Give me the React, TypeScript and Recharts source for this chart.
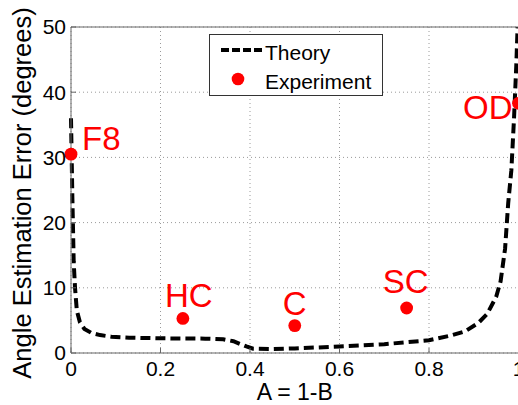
import React from 'react'
import {
  ComposedChart, Line, Scatter, XAxis, YAxis, CartesianGrid, Legend, Label,
} from 'recharts'

const FONT = '"Liberation Sans", Arial, sans-serif'

// theory curve: error vs A
const theoryA = [
  0, 0.003, 0.006, 0.009, 0.013, 0.02, 0.03, 0.045, 0.065, 0.09, 0.13, 0.2, 0.3, 0.34,
  0.363, 0.392, 0.407, 0.45, 0.5, 0.6, 0.7, 0.8, 0.85, 0.88, 0.91, 0.93, 0.95, 0.96,
  0.97, 0.977, 0.984, 0.99, 0.995, 0.998,
]
const theoryErr = [
  36, 24, 14, 10, 6.5, 4.7, 3.7, 3.1, 2.75, 2.5, 2.35, 2.25, 2.2, 2.1,
  1.8, 1.0, 0.65, 0.6, 0.7, 1.0, 1.35, 1.95, 2.7, 3.3, 4.6, 6.0, 8.6, 11,
  16, 23, 28, 36, 44, 50,
]

// experiment points
const expNames = ['F8', 'HC', 'C', 'SC', 'OD']
const expA = [0, 0.25, 0.5, 0.75, 1]
const expErr = [30.5, 5.3, 4.2, 6.9, 38.3]

const xTicks = [0, 0.2, 0.4, 0.6, 0.8, 1]
const xTickLabels = ['0', '0.2', '0.4', '0.6', '0.8', '1']
const yTicks = [0, 10, 20, 30, 40, 50]
const yTickLabels = ['0', '10', '20', '30', '40', '50']

// where each point's name sits relative to its dot
const LABEL_POS: Record<string, { dx: number; dy: number; anchor: 'start' | 'middle' | 'end' }> = {
  F8: { dx: 11, dy: -4, anchor: 'start' },
  HC: { dx: 6, dy: -11, anchor: 'middle' },
  C: { dx: 0, dy: -11, anchor: 'middle' },
  SC: { dx: -1, dy: -15, anchor: 'middle' },
  OD: { dx: -6, dy: 16, anchor: 'end' },
}

const theory = theoryA.map((a, i) => ({ a, err: theoryErr[i] }))
const experiment = expNames.map((name, i) => ({ name, a: expA[i], err: expErr[i] }))

const AXIS = '#666'

function ExpDot(props: any) {
  const { cx, cy, payload } = props
  const pos = LABEL_POS[payload.name]
  return (
    <g>
      <circle cx={cx} cy={cy} r={6.4} fill="#FF0000" />
      <text
        x={cx + pos.dx}
        y={cy + pos.dy}
        textAnchor={pos.anchor}
        fill="#FF0000"
        fontSize={33}
        fontFamily={FONT}
      >
        {payload.name}
      </text>
    </g>
  )
}

function LegendBox() {
  return (
    <div
      style={{
        width: 174, height: 62, boxSizing: 'border-box', border: '1px solid #333',
        background: '#fff', position: 'relative',
      }}
    >
      <svg width={172} height={60} style={{ position: 'absolute', left: 0, top: 0 }}>
        <line x1={11} x2={53} y1={15} y2={15} stroke="#000" strokeWidth={4} strokeDasharray="8 3" />
        <circle cx={28} cy={44} r={6.3} fill="#FF0000" />
        <text x={55} y={25} fontSize={21} fontFamily={FONT} fill="#000">Theory</text>
        <text x={55} y={54} fontSize={21} fontFamily={FONT} fill="#000">Experiment</text>
      </svg>
    </div>
  )
}

export default function App() {
  return (
    <div
      style={{
        width: 518, height: 405, boxSizing: 'border-box', padding: '8px 0 0 8px',
        overflow: 'hidden', background: '#fff',
      }}
    >
      <style>{'html, body { margin: 0; overflow: hidden; }'}</style>
      <ComposedChart width={520} height={397} margin={{ top: 18, right: 9.5, bottom: 0, left: 0 }}>
        <CartesianGrid stroke="#9a9a9a" strokeDasharray="1 3" />
        <XAxis
          dataKey="a"
          type="number"
          domain={[0, 1]}
          ticks={xTicks}
          tickFormatter={(_v: number, i: number) => xTickLabels[i]}
          height={52}
          tickSize={-5}
          tickMargin={13}
          axisLine={{ stroke: AXIS }}
          tickLine={{ stroke: AXIS }}
          tick={{ fill: '#000', fontSize: 21, fontFamily: FONT }}
          interval={0}
        >
          <Label
            content={(p: any) => (
              <text
                x={p.viewBox.x + p.viewBox.width / 2}
                y={p.viewBox.y + 47}
                textAnchor="middle"
                fontSize={23}
                fontFamily={FONT}
                fill="#000"
              >
                A = 1-B
              </text>
            )}
          />
        </XAxis>
        <XAxis
          xAxisId="top"
          orientation="top"
          dataKey="a"
          type="number"
          domain={[0, 1]}
          ticks={xTicks}
          height={1}
          tick={false}
          tickSize={-5}
          axisLine={{ stroke: AXIS }}
          tickLine={{ stroke: AXIS }}
        />
        <YAxis
          dataKey="err"
          type="number"
          domain={[0, 50]}
          ticks={yTicks}
          tickFormatter={(_v: number, i: number) => yTickLabels[i]}
          width={63}
          tickSize={-5}
          tickMargin={10}
          axisLine={{ stroke: AXIS }}
          tickLine={{ stroke: AXIS }}
          tick={{ fill: '#000', fontSize: 21, fontFamily: FONT }}
          interval={0}
        >
          <Label
            content={() => {
              const x = 23
              const y = 185
              return (
                <text
                  x={x}
                  y={y}
                  transform={`rotate(-90, ${x}, ${y})`}
                  textAnchor="middle"
                  fontSize={25.5}
                  fontFamily={FONT}
                  fill="#000"
                >
                  Angle Estimation Error (degrees)
                </text>
              )
            }}
          />
        </YAxis>
        <Line
          data={theory}
          dataKey="err"
          type="linear"
          stroke="#000"
          strokeWidth={4}
          strokeDasharray="10 5"
          dot={false}
          activeDot={false}
          isAnimationActive={false}
        />
        <Scatter
          data={experiment}
          dataKey="err"
          shape={ExpDot}
          isAnimationActive={false}
        />
        <Legend
          layout="horizontal"
          verticalAlign="middle"
          align="center"
          content={() => <LegendBox />}
          wrapperStyle={{ position: 'absolute', left: 201, top: 26, width: 174, height: 62 }}
        />
      </ComposedChart>
    </div>
  )
}
